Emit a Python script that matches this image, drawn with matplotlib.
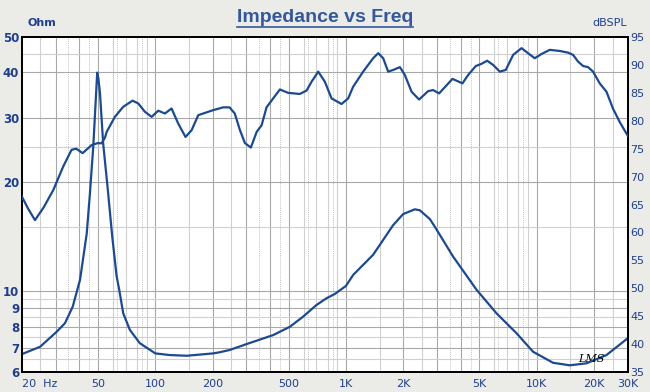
import numpy as np
from matplotlib import pyplot as plt
from matplotlib.lines import Line2D

# impedance curve (Ohm, left axis)
imp_freq = [20, 24.9, 30.4, 33.6, 36.9, 40.3, 43.7, 45.4, 47.3, 48.5, 49.6, 50.3, 51.3, 53.3,
            56.5, 59.5, 62.7, 64.7, 67.9, 73.6, 83, 100, 119, 146, 201, 218, 246, 301, 415,
            508, 596, 700, 790, 873, 998, 1090, 1387, 1766, 1992, 2294, 2437, 2750, 2921,
            3645, 4832, 6150, 7830, 9568, 12180, 14900, 18230, 23200, 30000]
imp_ohm = [6.72, 7.04, 7.74, 8.17, 9.07, 10.75, 14.4, 18.5, 25, 32, 39.9, 38.5, 35, 25.5,
           18.8, 14.1, 11.0, 10.1, 8.7, 7.83, 7.2, 6.75, 6.68, 6.65, 6.75, 6.8, 6.9, 7.16, 7.58,
           7.99, 8.52, 9.17, 9.57, 9.83, 10.34, 11.09, 12.6, 15.2, 16.3, 16.8, 16.7, 15.8, 15.05,
           12.45, 10.1, 8.7, 7.67, 6.82, 6.36, 6.26, 6.34, 6.68, 7.43]

# SPL curve (dB, right axis)
spl_freq = [20, 21.5, 23.4, 26, 29.2, 32.9, 36.4, 38.5, 41.6, 46.4, 50, 52.3, 54.5, 55.6,
            61.4, 67.9, 76, 81.4, 88.3, 95.7, 103.6, 112.4, 121.7, 131.9, 144, 155, 168, 201,
            227, 245, 261, 278, 295, 317, 340, 361, 383, 415, 450, 497, 572, 621, 660, 715,
            774, 840, 947, 1026, 1090, 1230, 1387, 1475, 1566, 1663, 1766, 1916, 2034, 2206,
            2416, 2694, 2860, 3076, 3294, 3614, 4080, 4366, 4792, 5134, 5490, 5906, 6400,
            6880, 7520, 8320, 9000, 9760, 10580, 11700, 13200, 14600, 15500, 16460, 17500,
            18580, 19730, 21380, 23200, 25080, 27200, 30000]
spl_db = [66.4, 64.3, 62.2, 64.5, 67.6, 71.8, 74.8, 75.0, 74.2, 75.65, 76, 75.96, 77, 78,
          80.7, 82.5, 83.6, 83.1, 81.6, 80.7, 81.8, 81.3, 82.2, 79.5, 77.1, 78.3, 81, 81.9,
          82.4, 82.4, 81.3, 78.3, 76, 75.2, 78, 79.2, 82.4, 84, 85.6, 85, 84.8, 85.4, 87, 88.8,
          87, 84, 83, 84, 86.1, 88.8, 91.2, 92.1, 91.2, 88.8, 89.1, 89.6, 88.2, 85.2,
          83.8, 85.3, 85.5, 84.9, 86, 87.5, 86.7, 88.2, 89.8, 90.2, 90.75, 90, 88.8,
          89.1, 91.8, 93, 92.1, 91.2, 91.95, 92.7, 92.5, 92.2, 91.8, 90.6, 89.8,
          89.6, 88.8, 86.7, 85.2, 82.2, 79.8, 77.3]

x_ticks = [20, 50, 100, 200, 500, 1000, 2000, 5000, 10000, 20000, 30000]
x_labels = ['20  Hz', '50', '100', '200', '500', '1K', '2K', '5K', '10K', '20K', '30K']
ohm_ticks = [6, 7, 8, 9, 10, 20, 30, 40, 50]
db_ticks = list(range(35, 100, 5))

line_color = '#1d4a8e'
text_color = '#1f3f8c'

fig = plt.figure(figsize=(6.5, 3.92), dpi=100, facecolor='#ebebe8')
ax = fig.add_axes([0.0338, 0.051, 0.932, 0.8546])
ax.set_facecolor('white')
ax.set_xscale('log')
ax.set_yscale('log')
ax.set_xlim(20, 30000)
ax.set_ylim(6, 50)

# grid
for dec in [10, 100, 1000, 10000]:
    for m in [1, 2, 3, 4, 5]:
        f = m * dec
        if 20 < f < 30000:
            ax.axvline(f, color='#a8a8a8', lw=0.8, zorder=0)
    for m in [1.5, 2.5, 6, 7, 8, 9]:
        f = m * dec
        if 20 < f < 30000:
            ax.axvline(f, color='#d0d0d0', lw=0.8, zorder=0)
    for m in [3.5, 4.5, 6.3, 8.5]:
        f = m * dec
        if 20 < f < 30000:
            ax.axvline(f, color='#c4c4c4', lw=0.7, ls=(0, (1, 1)), zorder=0)
for v in [7, 8, 9, 10, 20, 30, 40]:
    ax.axhline(v, color='#a8a8a8', lw=0.8, zorder=0)
for v in [6.5, 7.5, 8.5, 9.5, 15, 25, 45]:
    ax.axhline(v, color='#d0d0d0', lw=0.8, zorder=0)

ax.plot(imp_freq, imp_ohm, color=line_color, lw=1.6, zorder=3)

ax.set_xticks(x_ticks)
ax.set_xticklabels(x_labels)
ax.xaxis.set_minor_locator(plt.NullLocator())
ax.set_yticks(ohm_ticks)
ax.set_yticklabels([str(v) for v in ohm_ticks])
ax.yaxis.set_minor_locator(plt.NullLocator())
ax.tick_params(axis='x', length=0, pad=5, labelsize=8, labelcolor=text_color)
ax.tick_params(axis='y', length=0, pad=2, labelsize=8.5, labelcolor=text_color)
for lab in ax.get_yticklabels():
    lab.set_fontweight('bold')
ax.get_xticklabels()[0].set_horizontalalignment('left')

ax2 = ax.twinx()
ax2.set_ylim(35, 95)
ax2.set_yticks(db_ticks)
ax2.tick_params(length=0, pad=2, labelsize=8, labelcolor=text_color)
ax2.plot(spl_freq, spl_db, color=line_color, lw=1.6, zorder=3)

for a in (ax, ax2):
    for s in a.spines.values():
        s.set_color('black')
        s.set_linewidth(1.3)

fig.text(0.042, 0.928, 'Ohm', color=text_color, fontsize=8, fontweight='bold', ha='left', va='bottom')
fig.text(0.965, 0.928, 'dBSPL', color=text_color, fontsize=8, ha='right', va='bottom')
title = fig.text(0.5, 0.955, 'Impedance vs Freq', color='#34589a', fontsize=14,
                 fontweight='bold', family='Liberation Sans', ha='center', va='center')
fig.text(0.89, 0.085, 'LMS', color='black', fontsize=8, style='italic', family='DejaVu Serif',
         ha='left', va='center')

fig.canvas.draw()
bb = title.get_window_extent(fig.canvas.get_renderer())
W, H = fig.get_size_inches() * fig.dpi
yl = (bb.y0 - 0.5) / H
fig.add_artist(Line2D([bb.x0 / W, bb.x1 / W], [yl, yl], color='#34589a', lw=1.2))

fig.savefig('out.png', dpi=100, facecolor=fig.get_facecolor())
